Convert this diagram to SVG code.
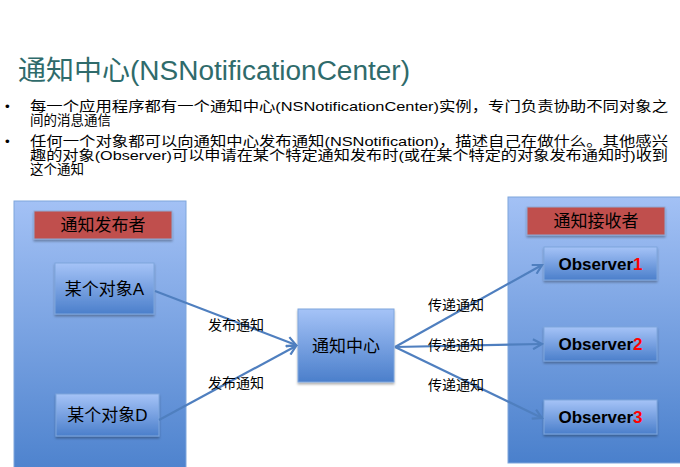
<svg xmlns="http://www.w3.org/2000/svg" width="680" height="467" viewBox="0 0 680 467">
<defs>
<linearGradient id="gBox" x1="0" y1="0" x2="0" y2="1">
<stop offset="0" stop-color="#A3C1F5"/>
<stop offset="1" stop-color="#4A80CC"/>
</linearGradient>
<linearGradient id="gNode" x1="0" y1="0" x2="0" y2="1">
<stop offset="0" stop-color="#A5C3F7"/>
<stop offset="1" stop-color="#4B7FCB"/>
</linearGradient>
<marker id="arr" viewBox="0 0 12 12" refX="10" refY="6" markerWidth="12" markerHeight="12" markerUnits="userSpaceOnUse" orient="auto">
<path d="M1,1 L10,6 L1,11" fill="none" stroke="#4F7FBF" stroke-width="2.2"/>
</marker>
<filter id="sh" x="-10%" y="-10%" width="130%" height="140%">
<feDropShadow dx="0" dy="2" stdDeviation="1.2" flood-color="#000" flood-opacity="0.3"/>
</filter>
</defs>
<style>
.title{font-family:"Liberation Sans","Noto Sans CJK SC",sans-serif;font-size:27px;fill:#2F6B6B}
.body{font-family:"Liberation Sans","Noto Sans CJK SC",sans-serif;font-size:13.5px;fill:#000}
.cont{fill:url(#gBox);stroke:#7FA6DC;stroke-width:1}
.node{fill:url(#gNode);stroke:#7FA6DC;stroke-width:1;filter:url(#sh)}
.red{fill:#C0504D;stroke:#8FA9D4;stroke-width:1;filter:url(#sh)}
.lbl{font-family:"Liberation Sans","Noto Sans CJK SC",sans-serif;font-size:17px;fill:#000;text-anchor:middle}
.obs{font-family:"Liberation Sans",Arial,sans-serif;font-size:17px;font-weight:bold;fill:#000;text-anchor:middle}
.num{fill:#FF0000}
.edge{stroke:#4F7FBF;stroke-width:2.2;fill:none;marker-end:url(#arr)}
.elbl{font-family:"Liberation Serif","Noto Sans CJK SC",serif;font-size:14px;fill:#000}
</style>
<rect width="680" height="467" fill="#fff"/>
<text class="title" x="18" y="80" textLength="392" lengthAdjust="spacingAndGlyphs">通知中心(NSNotificationCenter)</text>
<g class="body">
<text x="5" y="111">•</text>
<text x="30" y="111" textLength="638" lengthAdjust="spacingAndGlyphs">每一个应用程序都有一个通知中心(NSNotificationCenter)实例，专门负责协助不同对象之</text>
<text x="30" y="125">间的消息通信</text>
<text x="5" y="146">•</text>
<text x="30" y="146" textLength="638" lengthAdjust="spacingAndGlyphs">任何一个对象都可以向通知中心发布通知(NSNotification)，描述自己在做什么。其他感兴</text>
<text x="30" y="160" textLength="638" lengthAdjust="spacingAndGlyphs">趣的对象(Observer)可以申请在某个特定通知发布时(或在某个特定的对象发布通知时)收到</text>
<text x="30" y="174">这个通知</text>
</g>
<g id="publishers">
<rect class="cont" x="14" y="201" width="172" height="280"/>
<rect class="red" x="34" y="211" width="138" height="28"/>
<text class="lbl" x="103" y="231">通知发布者</text>
</g>
<g id="receivers">
<rect class="cont" x="508" y="197" width="180" height="266"/>
<rect class="red" x="527" y="207" width="138" height="28"/>
<text class="lbl" x="596" y="227">通知接收者</text>
</g>
<g id="objA">
<rect class="node" x="55" y="263" width="99" height="51"/>
<text class="lbl" x="104.5" y="295">某个对象A</text>
</g>
<g id="objD">
<rect class="node" x="56" y="394" width="103" height="42"/>
<text class="lbl" x="107.5" y="421">某个对象D</text>
</g>
<g id="center">
<rect class="node" x="298" y="309" width="96" height="73"/>
<text class="lbl" x="346" y="352">通知中心</text>
</g>
<g id="obs1">
<rect class="node" x="544" y="247" width="113" height="33"/>
<text class="obs" x="600.5" y="270">Observer<tspan class="num">1</tspan></text>
</g>
<g id="obs2">
<rect class="node" x="544" y="327" width="113" height="34"/>
<text class="obs" x="600.5" y="350">Observer<tspan class="num">2</tspan></text>
</g>
<g id="obs3">
<rect class="node" x="544" y="400" width="113" height="34"/>
<text class="obs" x="600.5" y="423">Observer<tspan class="num">3</tspan></text>
</g>
<g id="connectors">
<line class="edge" x1="155" y1="291" x2="296" y2="345"/>
<line class="edge" x1="159" y1="420" x2="296" y2="346"/>
<line class="edge" x1="395" y1="347" x2="542" y2="265"/>
<line class="edge" x1="395" y1="347" x2="542" y2="344"/>
<line class="edge" x1="395" y1="347" x2="542" y2="418"/>
<text class="elbl" x="208" y="330">发布通知</text>
<text class="elbl" x="208" y="388">发布通知</text>
<text class="elbl" x="428" y="310">传递通知</text>
<text class="elbl" x="428" y="350">传递通知</text>
<text class="elbl" x="428" y="390">传递通知</text>
</g>
</svg>
